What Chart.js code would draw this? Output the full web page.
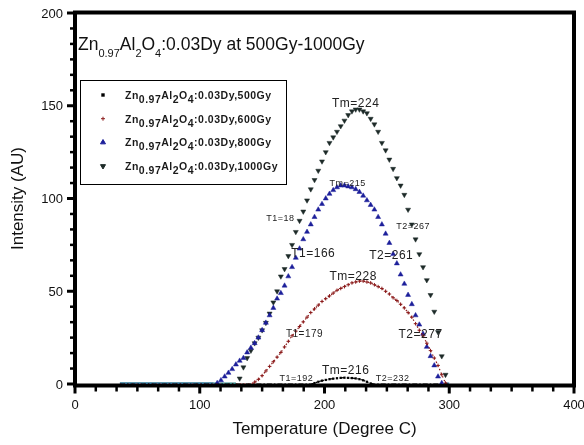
<!DOCTYPE html>
<html>
<head>
<meta charset="utf-8">
<script src="https://cdn.jsdelivr.net/npm/chart.js@4.4.1/dist/chart.umd.min.js"></script>
<style>
  html, body { margin: 0; padding: 0; background: #fff; }
</style>
</head>
<body>
<canvas id="tlChart" width="584" height="445"></canvas>
<script>
/* =====================================================
   Data
===================================================== */
const temps = [
  36, 108, 111, 114, 117, 120, 123, 126, 129, 132,
  135, 138, 141, 144, 147, 150, 153, 156, 159, 162,
  165, 168, 171, 174, 177, 180, 183, 186, 189, 192,
  195, 198, 201, 204, 207, 210, 213, 216, 219, 222,
  225, 228, 231, 234, 237, 240, 243, 246, 249, 252,
  255, 258, 261, 264, 267, 270, 273, 276, 279, 282,
  285, 288, 291, 294, 297, 300
];

const dose500 = [
  0, 0, 0, 0, 0, 0, 0, 0, 0, 0,
  0, 0, 0, 0, 0, 0, 0, 0, 0, 0,
  0, 0, 0, 0, 0, 0, 0, 0, 0, 0.5,
  1.2, 1.8, 2.2, 2.6, 2.9, 3.1, 3.3, 3.4, 3.3, 3.2,
  3.0, 2.6, 2.0, 1.2, 0.3, 0, 0, 0, 0, 0,
  0, 0, 0, 0, 0, 0, 0, 0, 0, 0,
  0, 0, 0, 0, 0, 0
];

const dose600 = [
  0, 0, 0, 0, 0, 0, 0, 0, 0, 0,
  0, 0, 0, 1, 2.5, 4.5, 7, 9.5, 12, 14.5,
  17, 20, 23, 26, 28.5, 31, 33.5, 36, 38.5, 40.5,
  42.5, 44.5, 46, 47.5, 49, 50.5, 51.5, 52.5, 53.5, 54.5,
  55, 55.5, 55.5, 55, 54.5, 53.5, 52.5, 51.5, 50, 48.5,
  46.5, 45, 43, 41, 38.5, 36, 32.5, 29, 26, 22,
  18, 14, 10, 5, 0.5, 0
];

const dose800 = [
  0, 0, 0, 0.5, 2, 4, 6, 8, 10.5, 12.5,
  14, 17, 19.5, 22, 25, 29, 33, 37, 41, 46,
  49, 53, 58, 63, 68, 73, 78, 82, 86, 90,
  94, 97, 100, 102.5, 104.5, 106, 107, 107, 106.5, 106,
  105, 103.5, 101.5, 99, 96.5, 94, 90, 86, 81, 76,
  70, 65, 59, 54, 48, 43, 37, 32, 27, 20,
  15, 10, 4, 0.5, 0, 0
];

const dose1000 = [
  0, 0, 0, 0, 0, 0, 0, 0, 0, 3,
  9, 14, 18, 22, 25, 29, 33, 38, 44, 50,
  58, 62, 69, 75, 82, 88, 93, 99, 105, 110,
  115, 120, 125, 130, 133, 136, 139, 142, 145, 147,
  148, 148, 147, 146, 143, 140, 136, 130, 126, 121,
  116, 111, 107, 102, 94, 86, 78, 70, 63, 56,
  48, 39, 28, 15, 5, 0
];

const doseNames = ['500Gy', '600Gy', '800Gy', '1000Gy'];
const xTicks = [0, 100, 200, 300, 400];
const yTicks = [0, 50, 100, 150, 200];

// peak / limit notes: text, temperature, intensity, font size
const notes = [
  ['Tm=224', 225, 149.3, 12],
  ['Tm=215', 218.5, 106.7, 9],
  ['T1=18', 164.7, 88, 9],
  ['T2=267', 271, 83.5, 9],
  ['T1=166', 191, 68.5, 12],
  ['T2=261', 253.5, 67.5, 12],
  ['Tm=228', 223, 56, 12],
  ['T1=179', 184, 25.3, 10],
  ['T2=277', 277, 24.8, 12],
  ['T1=192', 177.5, 1.6, 9],
  ['Tm=216', 217, 5.4, 12],
  ['T2=232', 254.6, 1.6, 9]
];

/* =====================================================
   Helpers
===================================================== */
const FONT = "'Liberation Sans', Arial, sans-serif";
const toPoints = vals => temps.map((t, i) => ({ x: t, y: vals[i] }));
const hideZero = r => c => (c.raw && c.raw.y === 0 ? 0 : r);
const zeroOnly = color => ({
  borderColor: c => (c.p0.parsed.y === 0 && c.p1.parsed.y === 0) ? color : 'rgba(0,0,0,0)'
});

// formula pieces: [text, isSubscript]
const formula = [['Zn', 0], ['0.97', 1], ['Al', 0], ['2', 1], ['O', 0], ['4', 1]];

function drawRich(ctx, parts, x, y, font, subFont, drop) {
  parts.forEach(([txt, sub]) => {
    ctx.font = sub ? subFont : font;
    ctx.fillText(txt, x, y + (sub ? drop : 0));
    x += ctx.measureText(txt).width;
  });
}

/* =====================================================
   Plugins: frame + ticks, title, legend, notes
===================================================== */
const framePlugin = {
  id: 'frame',
  beforeDatasetsDraw(chart) {
    const { ctx, chartArea: a, scales: { x, y } } = chart;
    ctx.save();
    ctx.strokeStyle = '#000';
    ctx.lineWidth = 4;
    ctx.strokeRect(a.left, a.top - 0.5, a.right - a.left, a.bottom - a.top + 2);

    const bottom = a.bottom + 1.5;
    ctx.fillStyle = '#111';
    ctx.font = `13px ${FONT}`;
    ctx.textBaseline = 'middle';

    // x ticks + labels
    ctx.textAlign = 'center';
    for (let i = 0; i < xTicks.length; i++) {
      let px = x.getPixelForValue(xTicks[i]);
      ctx.lineWidth = 3;
      ctx.beginPath(); ctx.moveTo(px, bottom); ctx.lineTo(px, bottom + 8); ctx.stroke();
      ctx.fillText(String(xTicks[i]), px, a.bottom + 21);
      if (i < xTicks.length - 1) {
        ctx.lineWidth = 2.5;
        for (let k = 1; k < 6; k++) {
          px = x.getPixelForValue(xTicks[i] + (xTicks[i + 1] - xTicks[i]) * k / 6);
          ctx.beginPath(); ctx.moveTo(px, bottom); ctx.lineTo(px, bottom + 6); ctx.stroke();
        }
      }
    }
    // y ticks + labels
    ctx.textAlign = 'right';
    for (let i = 0; i < yTicks.length; i++) {
      let py = y.getPixelForValue(yTicks[i]);
      ctx.lineWidth = 3;
      ctx.beginPath(); ctx.moveTo(a.left, py); ctx.lineTo(a.left - 8, py); ctx.stroke();
      ctx.fillText(String(yTicks[i]), a.left - 12, py + 1);
      if (i < yTicks.length - 1) {
        ctx.lineWidth = 2.5;
        for (let k = 1; k < 6; k++) {
          py = y.getPixelForValue(yTicks[i] + (yTicks[i + 1] - yTicks[i]) * k / 6);
          ctx.beginPath(); ctx.moveTo(a.left, py); ctx.lineTo(a.left - 5, py); ctx.stroke();
        }
      }
    }
    ctx.restore();
  },
  afterDatasetsDraw(chart) {
    const { ctx, chartArea: a, scales: { x, y } } = chart;
    ctx.save();
    ctx.fillStyle = '#111';
    ctx.textBaseline = 'alphabetic';
    ctx.textAlign = 'left';

    // title
    drawRich(ctx, formula.concat([[':0.03Dy at 500Gy-1000Gy', 0]]),
      a.left + 3, a.top + 37, `17.5px ${FONT}`, `11px ${FONT}`, 7);

    // legend
    const bx = a.left + 5, by = a.top + 67;
    ctx.strokeStyle = '#000';
    ctx.lineWidth = 1;
    ctx.strokeRect(bx + 0.5, by + 0.5, 206, 104);
    chart.data.datasets.forEach((ds, i) => {
      const cy = by + 15 + i * 23.7;
      ctx.fillStyle = ds.pointBackgroundColor;
      ctx.strokeStyle = ds.pointBorderColor;
      Chart.helpers.drawPoint(ctx, {
        pointStyle: ds.pointStyle,
        rotation: ds.pointRotation || 0,
        radius: ds.legendRadius,
        borderWidth: ds.pointBorderWidth
      }, bx + 23, cy);
      ctx.fillStyle = '#1a1a1a';
      ctx.letterSpacing = '0.5px';
      drawRich(ctx, formula.concat([[':0.03Dy,' + doseNames[i], 0]]),
        bx + 45, cy + 4, `bold 10.5px ${FONT}`, `bold 10.5px ${FONT}`, 4);
      ctx.letterSpacing = '0px';
    });

    // notes
    ctx.fillStyle = '#222';
    ctx.textAlign = 'center';
    ctx.letterSpacing = '0.5px';
    notes.forEach(([txt, t, v, size]) => {
      ctx.font = `${size}px ${FONT}`;
      ctx.fillText(txt, x.getPixelForValue(t), y.getPixelForValue(v));
    });
    ctx.restore();
  }
};

/* =====================================================
   Chart
===================================================== */
new Chart(document.getElementById('tlChart'), {
  type: 'scatter',
  data: {
    datasets: [
      {
        label: doseNames[0],
        data: toPoints(dose500),
        showLine: true,
        borderColor: '#000',
        borderWidth: 1.2,
        borderDash: [5, 2, 1.5, 2],
        pointStyle: 'rect',
        pointRadius: hideZero(1.6),
        legendRadius: 2.4,
        pointBackgroundColor: '#000',
        pointBorderColor: '#000',
        pointBorderWidth: 0
      },
      {
        label: doseNames[1],
        data: toPoints(dose600),
        showLine: true,
        borderColor: '#8b1a1a',
        borderWidth: 1.2,
        borderDash: [1.5, 2.5],
        pointStyle: 'cross',
        pointRadius: hideZero(1.8),
        legendRadius: 2,
        pointBackgroundColor: '#8b1a1a',
        pointBorderColor: '#8b1a1a',
        pointBorderWidth: 1
      },
      {
        label: doseNames[2],
        data: toPoints(dose800),
        showLine: true,
        borderColor: '#2a6f9a',
        borderWidth: 3,
        segment: zeroOnly('#2a6f9a'),
        pointStyle: 'triangle',
        pointRadius: hideZero(2.9),
        legendRadius: 2.9,
        pointBackgroundColor: '#1c1f9a',
        pointBorderColor: '#1c1f9a',
        pointBorderWidth: 0.5
      },
      {
        label: doseNames[3],
        data: toPoints(dose1000),
        showLine: true,
        borderColor: '#2f8585',
        borderWidth: 3,
        segment: zeroOnly('#2f8585'),
        pointStyle: 'triangle',
        pointRotation: 180,
        pointRadius: hideZero(2.9),
        legendRadius: 2.9,
        pointBackgroundColor: '#1d2a28',
        pointBorderColor: '#1d2a28',
        pointBorderWidth: 0.5
      }
    ]
  },
  options: {
    responsive: false,
    animation: false,
    events: [],
    layout: { padding: { top: 13, right: 10, left: 0, bottom: 0 } },
    plugins: { legend: { display: false }, tooltip: { enabled: false } },
    scales: {
      x: {
        type: 'linear', min: 0, max: 400,
        afterFit: s => { s.height = 61; },
        grid: { display: false, drawTicks: false },
        border: { display: false },
        ticks: { display: false },
        title: {
          display: true, text: 'Temperature (Degree C)', color: '#111',
          font: { family: FONT, size: 17 }, padding: { top: 0, bottom: 5 }
        }
      },
      y: {
        min: 0, max: 200,
        afterFit: s => { s.width = 75; },
        grid: { display: false, drawTicks: false },
        border: { display: false },
        ticks: { display: false },
        title: {
          display: true, text: 'Intensity (AU)', color: '#111',
          font: { family: FONT, size: 17 }, padding: { top: 8, bottom: 0 }
        }
      }
    }
  },
  plugins: [framePlugin]
});
</script>
</body>
</html>
